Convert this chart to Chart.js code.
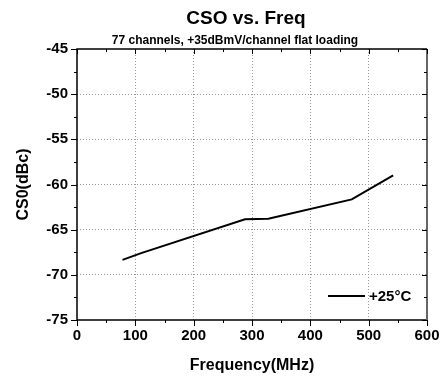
<!DOCTYPE html>
<html>
<head>
<meta charset="utf-8">
<script src="https://cdn.jsdelivr.net/npm/chart.js@4/dist/chart.umd.min.js"></script>
<style>
  html, body { margin: 0; padding: 0; background: #fff; }
  #wrap { width: 440px; height: 378px; }
</style>
</head>
<body>
<div id="wrap"><canvas id="chart" width="440" height="378"></canvas></div>
<script>
  const freqMHz = [78, 110, 288, 328, 471, 542];
  const csoDbc = [-68.35, -67.6, -63.85, -63.8, -61.65, -59.0];
  const xTicks = [0, 100, 200, 300, 400, 500, 600];
  const yTicks = [-75, -70, -65, -60, -55, -50, -45];
  const seriesLabel = '+25°C';
  const titleText = 'CSO vs. Freq';
  const subtitleText = '77 channels, +35dBmV/channel flat loading';

  const FONT = '"Liberation Sans", Arial, sans-serif';

  const gridColor = (ctx) => {
    const v = ctx.tick.value;
    if (ctx.scale.axis === 'x') return (v === 0 || v === 600) ? 'rgba(0,0,0,0)' : '#999';
    return (v === -75 || v === -45) ? 'rgba(0,0,0,0)' : '#999';
  };

  // frame, tick marks, title block and legend
  const decor = {
    id: 'decor',
    afterDraw(chart) {
      const { ctx, chartArea: a, scales } = chart;
      const x = scales.x, y = scales.y;
      ctx.save();
      ctx.strokeStyle = '#000';
      ctx.lineWidth = 1.5;
      ctx.beginPath();
      ctx.moveTo(a.right, a.top); ctx.lineTo(a.left, a.top);
      ctx.lineTo(a.left, a.bottom); ctx.lineTo(a.right, a.bottom);
      ctx.stroke();
      ctx.strokeStyle = '#666';
      ctx.lineWidth = 2;
      ctx.beginPath(); ctx.moveTo(a.right, a.top); ctx.lineTo(a.right, a.bottom); ctx.stroke();

      ctx.strokeStyle = '#000';
      ctx.lineWidth = 1;
      ctx.beginPath();
      for (let v = 0; v <= 600; v += 50) {
        const px = Math.round(x.getPixelForValue(v)) + 0.5;
        const major = v % 100 === 0;
        ctx.moveTo(px, a.bottom); ctx.lineTo(px, a.bottom + (major ? 6 : 3));
        ctx.moveTo(px, a.top); ctx.lineTo(px, a.top + (major ? 5 : 3));
      }
      for (let v = -75; v <= -45; v += 2.5) {
        const py = Math.round(y.getPixelForValue(v)) + 0.5;
        const major = v % 5 === 0;
        ctx.moveTo(a.left, py); ctx.lineTo(a.left - (major ? 6 : 3), py);
        ctx.moveTo(a.right, py); ctx.lineTo(a.right - (major ? 5 : 3), py);
      }
      ctx.stroke();

      ctx.fillStyle = '#000';
      ctx.textAlign = 'center';
      ctx.textBaseline = 'alphabetic';
      ctx.font = 'bold 19px ' + FONT;
      ctx.fillText(titleText, 246, 23.5);
      ctx.font = 'bold 12px ' + FONT;
      ctx.fillText(subtitleText, 235, 44);

      // legend
      const ds = chart.data.datasets[0];
      ctx.strokeStyle = ds.borderColor;
      ctx.lineWidth = ds.borderWidth;
      ctx.beginPath(); ctx.moveTo(328, 296); ctx.lineTo(365, 296); ctx.stroke();
      ctx.textAlign = 'left';
      ctx.textBaseline = 'middle';
      ctx.font = 'bold 15px ' + FONT;
      ctx.fillText(ds.label, 369, 297);
      ctx.restore();
    }
  };

  new Chart(document.getElementById('chart'), {
    type: 'scatter',
    data: {
      datasets: [{
        label: seriesLabel,
        data: freqMHz.map((f, i) => ({ x: f, y: csoDbc[i] })),
        showLine: true,
        borderColor: '#000',
        borderWidth: 2,
        pointRadius: 0,
        tension: 0
      }]
    },
    options: {
      responsive: false,
      animation: false,
      layout: { padding: { top: 49, right: 13, left: 0, bottom: 0 } },
      plugins: { legend: { display: false }, tooltip: { enabled: false }, title: { display: false } },
      scales: {
        x: {
          type: 'linear', min: 0, max: 600,
          afterBuildTicks: (s) => { s.ticks = xTicks.map((v) => ({ value: v })); },
          afterFit: (s) => { s.height = 58; s.paddingLeft = 0; s.paddingRight = 0; },
          ticks: { color: '#000', font: { family: FONT, size: 15, weight: 'bold' }, padding: 7, maxRotation: 0 },
          grid: { color: gridColor, drawTicks: false, lineWidth: 1 },
          border: { display: false, dash: [1, 2] },
          title: { display: true, text: 'Frequency(MHz)', color: '#000', font: { family: FONT, size: 16, weight: 'bold' }, padding: { top: 0, bottom: 2.4 } }
        },
        y: {
          type: 'linear', min: -75, max: -45,
          afterBuildTicks: (s) => { s.ticks = yTicks.map((v) => ({ value: v })); },
          afterFit: (s) => { s.width = 77; s.paddingTop = 0; s.paddingBottom = 0; },
          ticks: { color: '#000', font: { family: FONT, size: 15, weight: 'bold' }, padding: 9 },
          grid: { color: gridColor, drawTicks: false, lineWidth: 1 },
          border: { display: false, dash: [1, 2] },
          title: { display: true, text: 'CS0(dBc)', color: '#000', font: { family: FONT, size: 16, weight: 'bold' }, padding: { top: 13.5, bottom: 0 } }
        }
      }
    },
    plugins: [decor]
  });
</script>
</body>
</html>
